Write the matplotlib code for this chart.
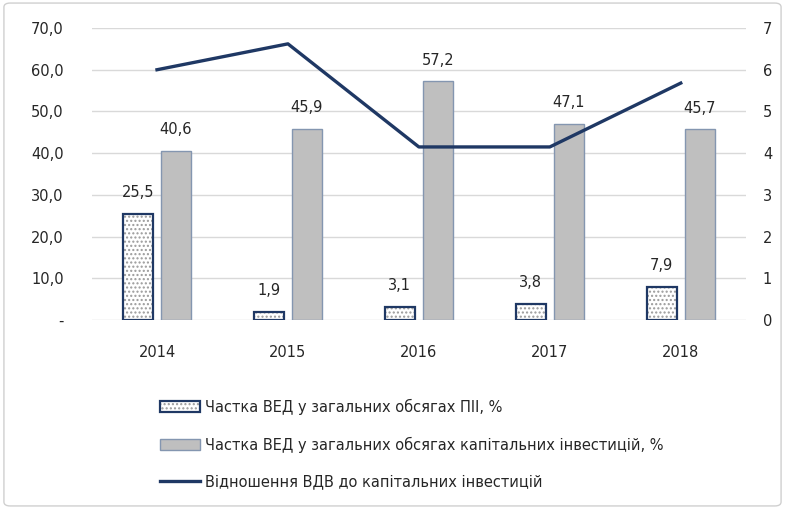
import matplotlib.pyplot as plt
import numpy as np
from matplotlib.patches import FancyBboxPatch

years = ["2014", "2015", "2016", "2017", "2018"]
fdi_share = [25.5, 1.9, 3.1, 3.8, 7.9]          # Частка ВЕД у загальних обсягах ПІІ, %
capinv_share = [40.6, 45.9, 57.2, 47.1, 45.7]   # Частка ВЕД у загальних обсягах капітальних інвестицій, %
gva_ratio = [6.0, 6.62, 4.15, 4.15, 5.68]       # Відношення ВДВ до капітальних інвестицій

label_fdi = "Частка ВЕД у загальних обсягах ПІІ, %"
label_cap = "Частка ВЕД у загальних обсягах капітальних інвестицій, %"
label_gva = "Відношення ВДВ до капітальних інвестицій"

plt.rcParams['font.family'] = ['DejaVu Sans']
plt.rcParams['hatch.linewidth'] = 1.0

navy = "#1f3864"
txt = "#262626"
fs = 10.5

fig = plt.figure(figsize=(7.85, 5.09), dpi=100)
# рамка навколо діаграми
fig.patches.append(FancyBboxPatch((0.005, 0.006), 0.99, 0.988, boxstyle="round,pad=0,rounding_size=0.008",
                                  transform=fig.transFigure, fill=False, edgecolor="#d0d0d0", lw=1.0))

ax = fig.add_axes([0.1166, 0.371, 0.834, 0.574])
x = np.arange(len(years))
w = 0.23
off = 0.145

# заштриховані стовпці: крапки + контур
hb = ax.bar(x - off, fdi_share, w, color="white", hatch="....", edgecolor="#9a9a9a", lw=0, zorder=2)
ob = ax.bar(x - off, fdi_share, w, fill=False, edgecolor=navy, lw=1.6, zorder=3)
gb = ax.bar(x + off, capinv_share, w, color="#bfbfbf", edgecolor="#8496b0", lw=1.0, zorder=2)

fmt = lambda v: f"{v:.1f}".replace(".", ",")
ax.bar_label(ob, labels=[fmt(v) for v in fdi_share], padding=10, fontsize=fs, color=txt)
ax.bar_label(gb, labels=[fmt(v) for v in capinv_share], padding=10, fontsize=fs, color=txt)

ax.set_ylim(0, 70)
ax.set_xlim(-0.5, len(years) - 0.5)
ax.set_yticks(np.arange(0, 71, 10))
ax.set_yticklabels(["-"] + [fmt(v) for v in range(10, 71, 10)])
ax.set_xticks(x)
ax.set_xticklabels(years)
ax.grid(axis="y", color="#d9d9d9", lw=1.0, zorder=0)
ax.set_axisbelow(True)
for s in ax.spines.values():
    s.set_visible(False)
ax.tick_params(axis="y", length=0, pad=20, labelsize=fs, labelcolor=txt)
ax.tick_params(axis="x", length=0, pad=18, labelsize=fs, labelcolor=txt)

ax2 = ax.twinx()
ln, = ax2.plot(x, gva_ratio, color=navy, lw=2.4, zorder=4)
ax2.set_ylim(0, 7)
ax2.set_yticks(range(0, 8))
for s in ax2.spines.values():
    s.set_visible(False)
ax2.tick_params(axis="y", length=0, pad=12, labelsize=fs, labelcolor=txt)

fig.legend([(hb, ob), gb, ln], [label_fdi, label_cap, label_gva],
           loc="upper left", bbox_to_anchor=(0.187, 0.243), frameon=False,
           fontsize=fs, labelspacing=1.5, handlelength=2.75, handletextpad=0.35,
           labelcolor=txt)

fig.savefig("out.png", dpi=100)
